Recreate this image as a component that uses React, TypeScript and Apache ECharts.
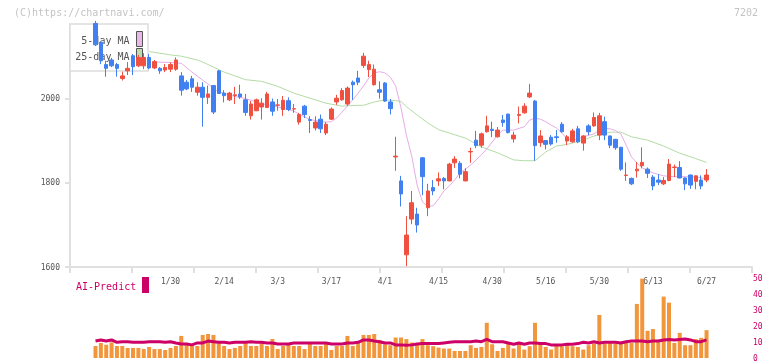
import React, { useEffect, useRef } from 'react';
import * as echarts from 'echarts';

const dates = ['1/9','1/10','1/14','1/15','1/16','1/17','1/20','1/21','1/22','1/23','1/24','1/27','1/28','1/29','1/30','1/31',
'2/3','2/4','2/5','2/6','2/7','2/10','2/12','2/13','2/14','2/17','2/18','2/19','2/20','2/21','2/25','2/26','2/27','2/28',
'3/3','3/4','3/5','3/6','3/7','3/10','3/11','3/12','3/13','3/14','3/17','3/18','3/19','3/21','3/24','3/25','3/26','3/27','3/28','3/31',
'4/1','4/2','4/3','4/4','4/7','4/8','4/9','4/10','4/11','4/14','4/15','4/16','4/17','4/18','4/21','4/22','4/23','4/24','4/25','4/28','4/30',
'5/1','5/2','5/7','5/8','5/9','5/12','5/13','5/14','5/15','5/16','5/19','5/20','5/21','5/22','5/23','5/26','5/27','5/28','5/29','5/30',
'6/2','6/3','6/4','6/5','6/6','6/9','6/10','6/11','6/12','6/13','6/16','6/17','6/18','6/19','6/20','6/23','6/24','6/25','6/26','6/27'];

const opens = [2180,2135,2082,2093,2082,2049,2067,2103,2079,2079,
2099,2074,2073,2069,2071,2071,2055,2040,2048,2016,
2028,2004,2032,2067,2014,1998,2008,2012,1998,1960,
1972,1981,1980,1993,1985,1975,1996,1976,1945,1983,
1951,1931,1952,1919,1952,1993,1998,1988,2040,2050,
2080,2070,2034,2022,2038,1993,1862,1805,1629,1714,
1726,1860,1741,1789,1805,1811,1805,1848,1847,1805,
1874,1902,1890,1922,1928,1910,1950,1964,1905,1961,
1967,2005,1995,1896,1901,1909,1910,1940,1900,1898,
1929,1895,1936,1936,1914,1946,1912,1904,1885,1818,
1811,1829,1841,1833,1814,1807,1798,1806,1837,1837,
1812,1819,1804,1807,1807];

const closes = [2129,2091,2073,2079,2073,2055,2073,2077,2099,2099,
2074,2089,2067,2075,2082,2093,2021,2024,2028,2028,
2004,2012,1969,2013,2008,2014,2010,2005,1968,1988,
1998,1990,2012,1971,1986,1997,1975,1977,1963,1963,
1949,1945,1929,1940,1976,2002,2020,2026,2034,2040,
2102,2082,2071,2016,1995,1977,1864,1774,1676,1753,
1700,1815,1781,1781,1810,1805,1845,1857,1821,1827,
1875,1889,1917,1936,1925,1926,1944,1920,1914,1963,
1983,2014,1889,1912,1892,1893,1908,1922,1910,1924,
1898,1912,1922,1956,1960,1914,1890,1884,1833,1819,
1798,1833,1849,1823,1793,1802,1806,1845,1838,1812,
1798,1795,1817,1793,1819];

const lows = [2126,2083,2053,2076,2053,2044,2057,2057,2076,2071,
2071,2071,2060,2064,2064,2067,2008,2021,2017,2008,
1934,1988,1964,2012,1992,1995,1988,2000,1960,1951,
1971,1951,1979,1960,1972,1960,1971,1967,1939,1955,
1919,1925,1919,1914,1950,1986,1996,1984,1998,2033,
2074,2052,2032,2001,1993,1963,1829,1744,1602,1702,
1682,1771,1721,1771,1793,1785,1804,1836,1811,1804,
1848,1883,1884,1920,1909,1908,1934,1918,1896,1942,
1965,2002,1853,1886,1880,1889,1896,1920,1890,1896,
1895,1877,1914,1934,1902,1902,1883,1879,1829,1805,
1795,1813,1835,1812,1783,1795,1795,1804,1814,1811,
1783,1786,1785,1785,1802];

const highs = [2186,2136,2091,2098,2086,2065,2088,2107,2105,2109,
2107,2093,2076,2083,2087,2099,2064,2045,2055,2040,
2040,2032,2033,2069,2021,2017,2029,2034,2012,1995,
2001,2002,2017,2001,2000,2007,2004,1988,1967,1986,
1959,1959,1963,1945,1980,2010,2026,2030,2044,2067,
2110,2091,2082,2042,2040,2000,1910,1817,1721,1781,
1741,1862,1798,1807,1825,1814,1848,1864,1852,1835,
1884,1924,1920,1960,1946,1933,1962,1965,1922,1982,
1990,2036,1998,1926,1902,1914,1926,1945,1914,1929,
1936,1914,1940,1968,1967,1958,1913,1905,1886,1849,
1813,1850,1885,1837,1819,1821,1814,1857,1844,1852,
1813,1820,1818,1818,1833];

// [day index, value] read along the moving-average curves where visible
const ma5Points = [[11,2088],[14,2087],[16,2085],[18,2064],[20,2045],[22,2026],[23,2017],[26,2006],[28,2001],[31,1989],
[34,1981],[37,1971],[40,1951],[43,1945],[44,1946],[45,1955],[46,1969],[48,1998],[49,2014],[50,2031],
[51,2050],[52,2062],[53,2065],[54,2062],[55,2052],[56,2031],[57,1979],[58,1914],[59,1864],[60,1795],
[61,1755],[62,1744],[63,1746],[64,1762],[65,1781],[66,1793],[67,1807],[68,1824],[69,1833],[70,1843],
[72,1867],[73,1881],[75,1914],[76,1926],[78,1926],[80,1934],[81,1950],[82,1954],[83,1952],[84,1946],
[85,1938],[86,1931],[87,1919],[88,1905],[89,1902],[90,1905],[91,1910],[93,1917],[94,1926],[95,1930],
[96,1929],[97,1925],[98,1917],[99,1890],[100,1862],[101,1848],[102,1836],[104,1824],[106,1817],[108,1815],
[110,1815],[112,1814],[114,1810]];

const ma25Points = [[10,2113],[14,2105],[16,2102],[19,2093],[20,2088],[24,2064],[28,2046],[31,2042],[34,2030],[37,2014],
[40,2002],[43,1990],[46,1983],[49,1985],[50,1985],[52,1993],[54,1998],[56,1996],[57,1994],[58,1982],
[60,1962],[62,1943],[64,1927],[66,1919],[69,1907],[72,1886],[75,1872],[78,1855],[80,1853],[82,1853],
[84,1874],[86,1888],[88,1892],[91,1902],[93,1912],[96,1921],[98,1921],[100,1910],[103,1902],[106,1888],
[109,1871],[112,1858],[114,1849]];

const aiBars = [7.5,9.4,8.3,9.8,7.5,7.5,6.3,6.3,6.3,5.6,
6.9,5.6,5.6,5,6.3,7.5,13.8,9.4,7.5,7.5,
14.4,15,14.4,9.4,7.5,5.6,6.3,7.5,9.4,7.5,
7.5,10.6,7.5,11.9,5.6,7.5,9.4,7.5,7.5,5.6,
10,7.5,7.5,9.4,5,7.5,7.5,13.8,7.5,9.4,
14.4,14.4,15,11.3,8.5,8,12.8,12.8,11.8,9.7,
8.6,11.8,8,7.4,6.5,5.9,5.9,4.4,4.4,4.4,
8,6.3,6.9,22,8.6,4.4,6.3,9.4,5.9,9.4,
5.3,7.4,22,8.6,6.9,5.3,8,7.4,8,7.4,
6.9,5.3,8,9.1,26.9,9.1,9.4,9.1,10.1,9.4,
9.4,33.8,49.6,17,18.1,10.1,38.4,34.6,9.4,15.7,
8,8,11.8,12.6,17.4];

const aiLine = [10.6,11.3,10.6,11.3,9.8,10.2,10.2,9.8,9.8,9.8,
10.2,10.2,10.2,9.8,10.2,9.4,8.8,8.8,8.2,9.4,
9.4,10.6,10.2,9.8,9.8,9.4,9.8,9.8,9.8,10.2,
9.8,9.8,9.4,9.4,8.8,8.8,8.8,9.4,9.4,9.4,
9.4,9.4,9.4,9.4,8.8,8.8,8.8,9.4,9.4,9.8,
11.3,11.3,10.6,10.2,9.4,9.4,8.2,8.2,7.9,8.2,
8.8,9,9,9,9,9.4,9.8,10.2,10.2,10.2,
10.2,10.6,10.2,11.6,10.2,10.2,10.2,9.4,8.6,9.4,
8.6,9.4,9.4,9,9,8.2,8.2,8.2,8.6,8.6,
9,9.8,9.4,10.2,9.4,9.8,9.8,9.8,9.4,10.2,
10.6,10.6,10.6,10.2,10.6,10.6,11.3,11.6,11.3,11.6,
11.9,11.3,10.2,10.2,11.3];

const priceTicks = [1600, 1800, 2000];
const priceMin = 1600;
const priceMax = 2178.57;
const aiTicks = [0, 10, 20, 30, 40, 50];
const legendNames = ['5-day MA', '25-day MA'];

const MONO = 'DejaVu Sans Mono';
const FIRST_X = 95.5;
const STEP = 5.36;

export default function App() {
  const ref = useRef<HTMLDivElement>(null);
  useEffect(() => {
    if (!ref.current) return;
    const chart = echarts.init(ref.current, undefined, { renderer: 'svg' });
    const n = dates.length;
    const dataLeft = FIRST_X - STEP / 2;
    const dataWidth = n * STEP;
    const candleData = opens.map((o, i) => [o, closes[i], lows[i], highs[i]]);
    const axisGray = '#e0e0e0';
    const option: any = {
      animation: false,
      grid: [
        { left: 70, top: 24, width: 682, height: 243, outerBoundsMode: 'none' },
        { left: dataLeft, top: 24, width: dataWidth, height: 243, outerBoundsMode: 'none' },
        { left: dataLeft, top: 278, width: dataWidth, height: 80, outerBoundsMode: 'none' },
      ],
      xAxis: [
        {
          gridIndex: 0, type: 'value', min: 0, max: 11, interval: 1,
          axisLine: { show: true, lineStyle: { color: axisGray, width: 2 } },
          axisTick: { show: true, length: 6, lineStyle: { color: axisGray, width: 2 } },
          axisLabel: { show: false }, splitLine: { show: false },
        },
        {
          gridIndex: 1, type: 'category', data: dates, boundaryGap: true,
          axisLine: { show: false }, axisTick: { show: false }, splitLine: { show: false },
          axisLabel: {
            interval: (idx: number) => idx >= 14 && (idx - 14) % 10 === 0,
            margin: 10, color: '#555', fontFamily: MONO, fontSize: 8, hideOverlap: false,
          },
        },
        { gridIndex: 2, type: 'category', data: dates, boundaryGap: true, show: false },
      ],
      yAxis: [
        {
          gridIndex: 0, type: 'value', min: priceMin, max: priceMax, interval: 200,
          axisLine: { show: true, lineStyle: { color: axisGray, width: 2 } },
          axisTick: { show: true, length: 5, customValues: priceTicks, lineStyle: { color: axisGray, width: 2 } },
          axisLabel: {
            customValues: priceTicks, margin: 10, color: '#555', fontFamily: MONO, fontSize: 8,
            formatter: (v: number) => (priceTicks.includes(Math.round(v)) ? String(Math.round(v)) : ''),
          },
          splitLine: { show: false },
        },
        { gridIndex: 1, type: 'value', min: priceMin, max: priceMax, show: false, splitLine: { show: false } },
        {
          gridIndex: 2, type: 'value', min: aiTicks[0], max: aiTicks[aiTicks.length - 1], interval: 10,
          position: 'right', offset: 752 - (dataLeft + dataWidth) - 1,
          axisLine: { show: false }, axisTick: { show: false }, splitLine: { show: false },
          axisLabel: { color: '#cc0066', margin: 2, fontFamily: MONO, fontSize: 8 },
        },
      ],
      series: [
        {
          type: 'line', name: legendNames[1], xAxisIndex: 1, yAxisIndex: 1, data: ma25Points,
          showSymbol: false, symbol: 'none', z: 2, silent: true,
          lineStyle: { color: '#b4dba6', width: 1 },
        },
        {
          type: 'line', name: legendNames[0], xAxisIndex: 1, yAxisIndex: 1, data: ma5Points,
          showSymbol: false, symbol: 'none', z: 2, silent: true,
          lineStyle: { color: '#e6ace6', width: 1 },
        },
        {
          type: 'candlestick', xAxisIndex: 1, yAxisIndex: 1, data: candleData,
          barWidth: 4, clip: false, z: 10,
          itemStyle: {
            color: '#f05040', color0: '#4080f0',
            borderColor: '#f05040', borderColor0: '#4080f0', borderWidth: 1,
          },
        },
        {
          type: 'bar', xAxisIndex: 2, yAxisIndex: 2, data: aiBars, barWidth: 4,
          itemStyle: { color: '#f2963c' }, z: 2,
        },
        {
          type: 'line', xAxisIndex: 2, yAxisIndex: 2, data: aiLine,
          showSymbol: false, symbol: 'none', z: 5,
          lineStyle: { color: '#cc0066', width: 3 },
        },
      ],
      graphic: [
        { type: 'text', x: 14, y: 12, z: 5, style: { text: '(C)https://chartnavi.com/', fill: '#c4c4c4', font: `10px "${MONO}"`, textVerticalAlign: 'middle', verticalAlign: 'middle' } },
        { type: 'text', x: 758, y: 12, z: 5, style: { text: '7202', fill: '#c4c4c4', font: `10px "${MONO}"`, align: 'right', textAlign: 'right', verticalAlign: 'middle', textVerticalAlign: 'middle' } },
        { type: 'rect', z: 5, shape: { x: 70, y: 24, width: 78, height: 47 }, style: { fill: '#ffffff', stroke: '#dddddd', lineWidth: 1.5 } },
        { type: 'text', x: 129.5, y: 40, z: 6, style: { text: legendNames[0], fill: '#555', font: `10px "${MONO}"`, align: 'right', textAlign: 'right', verticalAlign: 'middle', textVerticalAlign: 'middle' } },
        { type: 'text', x: 129.5, y: 56.5, z: 6, style: { text: legendNames[1], fill: '#555', font: `10px "${MONO}"`, align: 'right', textAlign: 'right', verticalAlign: 'middle', textVerticalAlign: 'middle' } },
        { type: 'rect', z: 6, shape: { x: 136.5, y: 31.5, width: 6, height: 15 }, style: { fill: '#e8b8e8', stroke: '#555', lineWidth: 1 } },
        { type: 'rect', z: 6, shape: { x: 136.5, y: 48.5, width: 6, height: 15 }, style: { fill: '#bcdcb0', stroke: '#555', lineWidth: 1 } },
        { type: 'text', x: 76, y: 286, z: 6, style: { text: 'AI-Predict', fill: '#cc0066', font: `10px "${MONO}"`, verticalAlign: 'middle', textVerticalAlign: 'middle' } },
        { type: 'rect', z: 6, shape: { x: 142, y: 277, width: 7, height: 16 }, style: { fill: '#cc0066' } },
      ],
    };
    chart.setOption(option);
    return () => chart.dispose();
  }, []);
  return <div ref={ref} style={{ position: 'fixed', left: 0, top: 0, width: 772, height: 361 }} />;
}
